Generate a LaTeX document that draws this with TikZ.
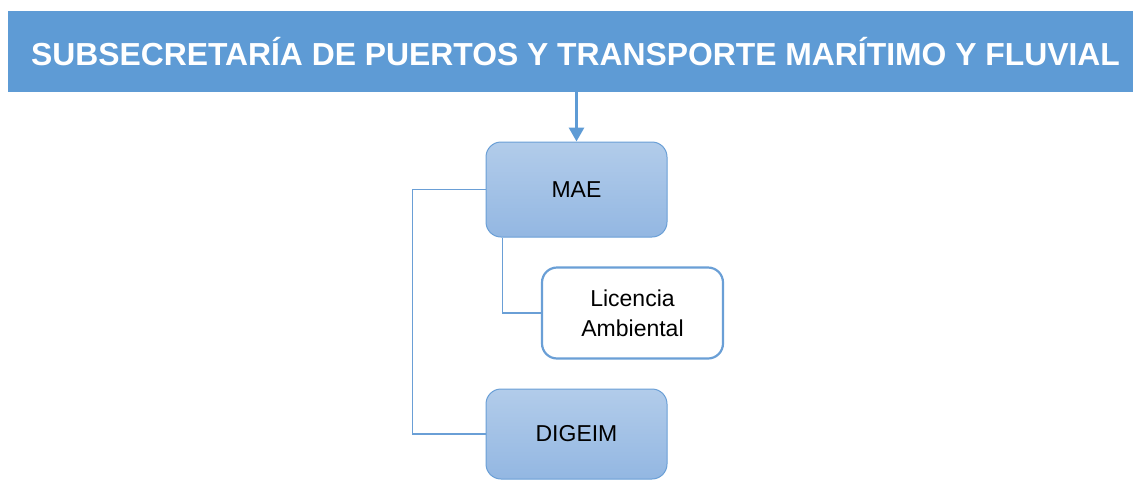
\documentclass[tikz,border=0pt]{standalone}
\usepackage{fontspec}
\setmainfont{Liberation Sans}
\usetikzlibrary{arrows.meta}
\definecolor{bannerblue}{HTML}{5E9BD5}
\definecolor{edgeblue}{HTML}{6A9FD6}
\definecolor{gtop}{HTML}{B2CCEA}
\definecolor{gbot}{HTML}{93B7E2}
\begin{document}
\begin{tikzpicture}[x=1pt,y=-1pt,
  bluebox/.style={rectangle, rounded corners=15pt, draw=edgeblue, line width=1pt,
    top color=gtop, bottom color=gbot, minimum width=181pt, inner sep=0pt,
    font=\fontsize{23}{28}\selectfont, text=black},
  whitebox/.style={rectangle, rounded corners=15pt, draw=edgeblue, line width=2.2pt,
    fill=white, minimum width=181pt, minimum height=91pt, inner sep=0pt, align=center,
    font=\fontsize{23}{30}\selectfont, text=black},
  link/.style={draw=edgeblue, line width=1.2pt}]
\useasboundingbox (0,0) rectangle (1133,480);
\node[fill=bannerblue, minimum width=1125pt, minimum height=81pt, inner sep=0pt,
  text=white, font=\fontsize{31.85}{36}\bfseries\selectfont] (banner) at (570.5,51.5)
  {\hspace*{10pt}SUBSECRETARÍA DE PUERTOS Y TRANSPORTE MARÍTIMO Y FLUVIAL};
\node[bluebox, minimum height=95pt] (mae) at (576.5,189.5) {MAE};
\node[whitebox] (lic) at (632.5,313) {Licencia\\Ambiental};
\node[bluebox, minimum height=90pt] (dig) at (576.5,434) {DIGEIM};
\draw[draw=bannerblue, line width=3pt, -{Triangle[width=15pt,length=14pt]}]
  (banner.south -| mae.north) -- (mae.north);
\draw[link] (mae.west) -- ++(-73,0) |- (dig.west);
\draw[link] ([xshift=17pt]mae.south west) |- (lic.west);
\end{tikzpicture}
\end{document}
